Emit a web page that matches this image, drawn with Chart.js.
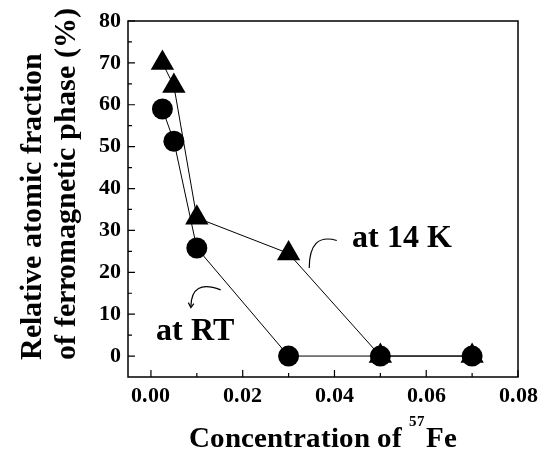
<!DOCTYPE html>
<html>
<head>
<meta charset="utf-8">
<script src="https://cdn.jsdelivr.net/npm/chart.js@4/dist/chart.umd.min.js"></script>
<style>
  @font-face { font-family: 'FigSerif'; font-weight: bold;
    src: local('Liberation Serif Bold'), local('LiberationSerif-Bold'), local('Times New Roman Bold'); }
  @font-face { font-family: 'FigSerif'; font-weight: normal;
    src: local('Liberation Serif'), local('LiberationSerif'), local('Times New Roman'); }
  html, body { margin: 0; padding: 0; background: #fff; }
  #wrap { width: 549px; height: 451px; position: relative; }
  #probe { position: absolute; left: -999px; font: bold 20px FigSerif; }
</style>
</head>
<body>
<div id="wrap"><canvas id="fracChart"></canvas></div>
<span id="probe">0.08 Concentration</span>
<script>
// values
const concentration = [0.0025, 0.005, 0.01, 0.03, 0.05, 0.07];
const fraction14K = [70, 64.5, 33, 24.5, 0, 0];
const fractionRT = [59, 51.3, 25.8, 0, 0, 0];

const xTickValues = [0, 0.02, 0.04, 0.06, 0.08];
const xMinorValues = [0.01, 0.03, 0.05, 0.07];
const yTickValues = [0, 10, 20, 30, 40, 50, 60, 70, 80];
const yMinorValues = [5, 15, 25, 35, 45, 55, 65, 75];

const SERIF = "FigSerif, 'Liberation Serif', 'Times New Roman', serif";

function toPoints(xs, ys) {
    return xs.map((x, i) => ({ x: x, y: ys[i] }));
}

// frame, inward ticks, titles and the two labelled arrows
const decorations = {
    id: 'decorations',
    afterDraw(chart) {
        const ctx = chart.ctx;
        const a = chart.chartArea;
        const xs = chart.scales.x, ys = chart.scales.y;
        ctx.save();
        ctx.strokeStyle = '#000';
        ctx.lineWidth = 1.5;
        ctx.strokeRect(a.left, a.top, a.right - a.left, a.bottom - a.top);

        ctx.lineWidth = 1.2;
        ctx.beginPath();
        xTickValues.concat(xMinorValues).forEach(v => {
            const px = xs.getPixelForValue(v);
            const len = xTickValues.includes(v) ? 7 : 4;
            ctx.moveTo(px, a.bottom); ctx.lineTo(px, a.bottom - len);
        });
        yTickValues.concat(yMinorValues).forEach(v => {
            const py = ys.getPixelForValue(v);
            const len = yTickValues.includes(v) ? 7 : 4;
            ctx.moveTo(a.left, py); ctx.lineTo(a.left + len, py);
        });
        ctx.stroke();

        // y title, two lines rotated
        ctx.fillStyle = '#000';
        ctx.save();
        ctx.translate(0, 360);
        ctx.rotate(-Math.PI / 2);
        ctx.font = 'bold 30px ' + SERIF;
        ctx.textAlign = 'left';
        ctx.textBaseline = 'middle';
        ctx.fillText('Relative atomic fraction', 0, 33);
        ctx.fillText('of ferromagnetic phase (%)', 0, 67);
        ctx.restore();

        // x title with superscript
        const big = 'bold 29px ' + SERIF, small = 'bold 15px ' + SERIF;
        ctx.textBaseline = 'alphabetic';
        ctx.textAlign = 'left';
        ctx.font = big;
        const p1 = 'Concentration of ', p3 = 'Fe';
        const w1 = ctx.measureText(p1).width, w3 = ctx.measureText(p3).width;
        ctx.font = small;
        const w2 = ctx.measureText('57').width + 1;
        const cx = (a.left + a.right) / 2;
        const tx = cx - (w1 + w2 + w3) / 2;
        const base = 447;
        ctx.font = big; ctx.fillText(p1, tx, base);
        ctx.font = small; ctx.fillText('57', tx + w1, base - 21);
        ctx.font = big; ctx.fillText(p3, tx + w1 + w2, base);

        // annotations
        ctx.font = 'bold 32px ' + SERIF;
        ctx.fillText('at 14 K', xs.getPixelForValue(0.0438), ys.getPixelForValue(26));
        ctx.fillText('at RT', xs.getPixelForValue(0.001), ys.getPixelForValue(3.8));

        ctx.lineWidth = 1.2;
        ctx.beginPath();
        ctx.moveTo(xs.getPixelForValue(0.0405), ys.getPixelForValue(27.6));
        ctx.quadraticCurveTo(xs.getPixelForValue(0.0345), ys.getPixelForValue(29.5),
                             xs.getPixelForValue(0.0345), ys.getPixelForValue(21));
        ctx.stroke();

        const ex = xs.getPixelForValue(0.0087), ey = ys.getPixelForValue(11.8);
        ctx.beginPath();
        ctx.moveTo(xs.getPixelForValue(0.0152), ys.getPixelForValue(15.8));
        ctx.quadraticCurveTo(xs.getPixelForValue(0.0088), ys.getPixelForValue(18.5), ex, ey);
        ctx.stroke();
        ctx.beginPath();
        ctx.moveTo(ex - 2.5, ey - 4);
        ctx.lineTo(ex, ey + 1);
        ctx.lineTo(ex + 3, ey - 3);
        ctx.stroke();
        ctx.restore();
    }
};

function drawChart() {
    const ctx = document.getElementById('fracChart').getContext('2d');
    new Chart(ctx, {
        type: 'scatter',
        data: {
            datasets: [
                {
                    label: 'at 14 K',
                    data: toPoints(concentration, fraction14K),
                    showLine: true,
                    borderColor: '#000',
                    borderWidth: 1,
                    backgroundColor: '#000',
                    pointStyle: 'triangle',
                    pointRadius: 13.5,
                    pointBorderWidth: 0
                },
                {
                    label: 'at RT',
                    data: toPoints(concentration, fractionRT),
                    showLine: true,
                    borderColor: '#000',
                    borderWidth: 1,
                    backgroundColor: '#000',
                    pointStyle: 'circle',
                    pointRadius: 10.5,
                    pointBorderWidth: 0
                }
            ]
        },
        options: {
            responsive: true,
            maintainAspectRatio: false,
            animation: false,
            layout: { padding: { top: 21, right: 31, left: 0, bottom: 0 } },
            plugins: { legend: { display: false }, tooltip: { enabled: false } },
            scales: {
                x: {
                    type: 'linear',
                    min: -0.005,
                    max: 0.08,
                    grid: { display: false, drawTicks: false },
                    border: { display: false },
                    afterBuildTicks: s => { s.ticks = xTickValues.map(v => ({ value: v })); },
                    afterFit: s => { s.height = 74; },
                    ticks: {
                        color: '#000',
                        padding: 6,
                        maxRotation: 0,
                        font: { family: SERIF, size: 22, weight: 'bold' },
                        callback: v => v.toFixed(2)
                    }
                },
                y: {
                    type: 'linear',
                    min: -5,
                    max: 80,
                    grid: { display: false, drawTicks: false },
                    border: { display: false },
                    afterBuildTicks: s => { s.ticks = yTickValues.map(v => ({ value: v })); },
                    afterFit: s => { s.width = 128; },
                    ticks: {
                        color: '#000',
                        padding: 7,
                        font: { family: SERIF, size: 22, weight: 'bold' }
                    }
                }
            }
        },
        plugins: [decorations]
    });
}

document.fonts.load('bold 20px FigSerif').then(drawChart, drawChart);
</script>
</body>
</html>
